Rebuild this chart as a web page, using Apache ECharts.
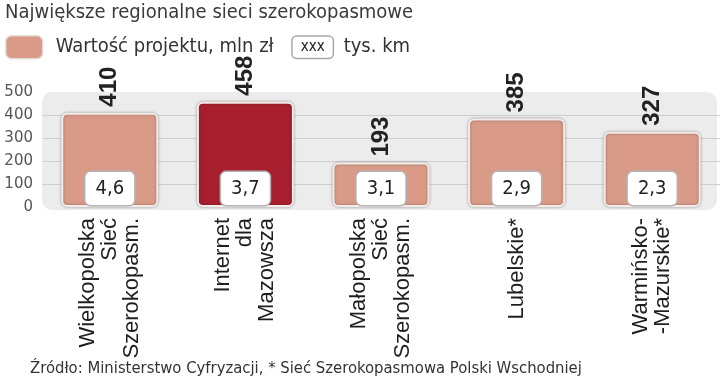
<!DOCTYPE html>
<html>
<head>
<meta charset="utf-8">
<script src="https://cdn.jsdelivr.net/npm/echarts@6/dist/echarts.min.js"></script>
<style>
html,body{margin:0;padding:0;background:#fff;}
#chart{width:720px;height:382px;}
</style>
</head>
<body>
<div id="chart"></div>
<script>
// ---- data ----
const titleText = 'Największe regionalne sieci szerokopasmowe';
const seriesName = 'Wartość projektu, mln zł';
const secondLegendText = 'tys. km';
const sourceText = 'Źródło: Ministerstwo Cyfryzacji, * Sieć Szerokopasmowa Polski Wschodniej';
const categories = ['Wielkopolska\nSieć\nSzerokopasm.', 'Internet\ndla\nMazowsza', 'Małopolska\nSieć\nSzerokopasm.', 'Lubelskie*', 'Warmińsko-\n-Mazurskie*'];
const projectValues = [410, 458, 193, 385, 327];
const lengthKm = [4.6, 3.7, 3.1, 2.9, 2.3];
const yMin = 0, yMax = 500, yStep = 100;
const highlightIndex = 1;

// ---- styles ----
const NARROW = '"DejaVu Sans Condensed", sans-serif';
const SALMON = '#d99b87';
const RED = '#a71f2f';

const chart = echarts.init(document.getElementById('chart'));
const fmt = v => String(v).replace('.', ',');

chart.setOption({
  animation: false,
  title: [
    { text: titleText, left: 5, top: 3, padding: 0, textStyle: { fontFamily: NARROW, fontSize: 20, fontWeight: 'normal', color: '#3a3a3a' } },
    { text: sourceText, left: 30, top: 360, padding: 0, textStyle: { fontFamily: NARROW, fontSize: 16.5, fontWeight: 'normal', color: '#333' } }
  ],
  legend: {
    data: [seriesName],
    left: 5, top: 35, padding: 0,
    itemWidth: 37, itemHeight: 23,
    icon: 'roundRect',
    itemStyle: { color: SALMON, borderColor: '#e6dcd8', borderWidth: 1.5 },
    formatter: n => '{a|' + n + '}{b|xxx}{c|' + secondLegendText + '}',
    textStyle: {
      rich: {
        a: { fontFamily: NARROW, fontSize: 20, color: '#333', padding: [0, 19, 0, 8] },
        b: { fontFamily: NARROW, fontSize: 15, color: '#222', backgroundColor: '#fff', borderColor: '#aaa', borderWidth: 1.5, borderRadius: 4, padding: [3, 8, 3, 8] },
        c: { fontFamily: NARROW, fontSize: 20, color: '#333', padding: [0, 0, 0, 11] }
      }
    }
  },
  grid: { left: 42, right: 0, top: 92, bottom: 175, containLabel: false },
  xAxis: {
    type: 'category',
    data: categories,
    axisLine: { show: false },
    axisTick: { show: false },
    axisLabel: {
      interval: 0, rotate: 90, margin: 11,
      fontFamily: '"Liberation Sans", Arial, sans-serif', fontSize: 22, lineHeight: 22, color: '#1e1e1e'
    }
  },
  yAxis: {
    type: 'value', min: yMin, max: yMax, interval: yStep,
    axisLine: { show: false }, axisTick: { show: false },
    axisLabel: { margin: 9, fontFamily: '"DejaVu Sans", sans-serif', fontSize: 15, color: '#555' },
    splitLine: { show: true, showMinLine: false, showMaxLine: false, lineStyle: { color: '#cfcfcf', width: 1 } }
  },
  series: [
    {
      name: seriesName,
      type: 'bar',
      barWidth: 97,
      data: projectValues.map((v, i) => ({
        value: v,
        itemStyle: { color: i === highlightIndex ? RED : SALMON }
      })),
      itemStyle: { borderColor: '#f3ebe8', borderWidth: 2, borderRadius: 5, shadowColor: 'rgba(0,0,0,0.3)', shadowBlur: 3 },
      label: {
        show: true, position: 'insideBottom', distance: 2,
        formatter: p => fmt(lengthKm[p.dataIndex]),
        fontFamily: NARROW, fontSize: 20, color: '#222',
        backgroundColor: '#fff', borderColor: '#b4b4b4', borderWidth: 1.5, borderRadius: 5,
        padding: [7, 10, 6, 10]
      },
      z: 3
    },
    {
      name: 'top',
      type: 'bar',
      barWidth: 97, barGap: '-100%',
      data: projectValues,
      itemStyle: { color: 'rgba(0,0,0,0)' },
      label: {
        show: true, position: 'top', distance: 6, rotate: 90,
        align: 'left', verticalAlign: 'middle',
        fontFamily: '"Liberation Sans", Arial, sans-serif', fontWeight: 'bold', fontSize: 24, color: '#222'
      },
      silent: true, z: 4
    }
  ]
});

// rounded panel behind the plot
const yTop = chart.convertToPixel({ yAxisIndex: 0 }, yMax);
const yBot = chart.convertToPixel({ yAxisIndex: 0 }, yMin);
chart.setOption({
  graphic: {
    elements: [{
      type: 'rect', z: -10, silent: true,
      shape: { x: 42, y: yTop, width: 675, height: yBot - yTop + 3, r: 10 },
      style: { fill: '#ececec' }
    }]
  }
});
</script>
</body>
</html>
